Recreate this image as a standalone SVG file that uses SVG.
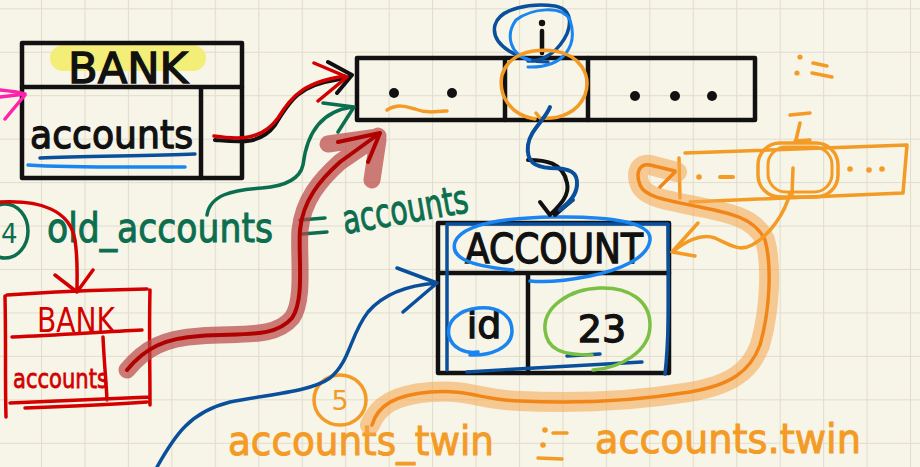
<svg xmlns="http://www.w3.org/2000/svg" width="920" height="467" viewBox="0 0 920 467">
<defs>
<pattern id="grid" x="41" y="8.3" width="43.45" height="43.45" patternUnits="userSpaceOnUse">
<path d="M0,0 V43.45 M0,0 H43.45" stroke="#e2ddcd" stroke-width="2.2" fill="none"/>
</pattern>
<style>
.k{fill:none;stroke:#111;stroke-width:4.5;stroke-linecap:round;stroke-linejoin:round}
.ln{fill:none;stroke-linecap:round;stroke-linejoin:round}
.lbl{font-family:"DejaVu Sans","Liberation Sans",sans-serif;fill:#111;stroke:#111;stroke-width:1.3}
.hand{font-family:"DejaVu Sans","Liberation Sans",sans-serif}
.dk{stroke:#0a4f9c}
.lb{stroke:#1a85f0}
.or{stroke:#f39b25}
.od{stroke:#f28518}
.gr{stroke:#0b6e4f}
.rd{stroke:#d40000}
</style>
</defs>
<rect width="920" height="467" fill="#f7f4e8"/>
<rect width="920" height="467" fill="url(#grid)"/>

<g id="bank-top">
<rect x="50" y="45" width="156" height="26" rx="13" fill="#f3ee78"/>
<rect x="22" y="43" width="220" height="135" class="k"/>
<path d="M22,87 H242 M201,87 V178" class="k"/>
<text x="128" y="83" text-anchor="middle" class="lbl" font-size="42" textLength="120" lengthAdjust="spacingAndGlyphs">BANK</text>
<text x="30" y="148" class="lbl" font-size="39" textLength="163" lengthAdjust="spacingAndGlyphs">accounts</text>
<path d="M40,158 C80,156 150,156 195,154" class="ln dk" stroke-width="3.5"/>
<path d="M28,165 C70,168 140,167 185,167" class="ln lb" stroke-width="3.5"/>
</g>

<g id="array-top">
<rect x="357" y="58" width="398" height="62" class="k"/>
<path d="M505,58 V120 M588,58 V120" class="k"/>
<g fill="#111">
<circle cx="394" cy="93" r="5"/><circle cx="452" cy="93" r="5"/>
<circle cx="635" cy="96" r="5"/><circle cx="675" cy="96" r="5"/><circle cx="712" cy="96" r="5"/>
<circle cx="542" cy="23" r="3.2"/>
</g>
<path d="M542,31 V53" class="k" stroke-width="3.5"/>
<path d="M387,110 C397,104 405,106 415,109 C425,113 435,112 447,111" class="ln or" stroke-width="3.5"/>
<path d="M548,62 C520,62 490,45 495,25 C500,8 530,3 555,6 C575,10 572,30 560,45 C552,55 540,62 528,61" class="ln dk" stroke-width="3.5"/>
<path d="M528,67 C565,68 578,45 570,20 C562,5 532,8 516,20 C505,35 510,55 530,60" class="ln lb" stroke-width="3"/>
<path d="M535,119 C510,115 498,95 502,75 C508,55 530,48 555,51 C580,55 592,75 585,95 C578,112 560,120 540,118 L536,113" class="ln or" stroke-width="3.5"/>
</g>

<g id="account">
<rect x="438" y="223" width="231" height="150" class="k"/>
<path d="M438,273 H669 M528,273 V373" class="k"/>
<text x="554" y="263" text-anchor="middle" class="lbl" font-size="40" textLength="178" lengthAdjust="spacingAndGlyphs">ACCOUNT</text>
<text x="484" y="338" text-anchor="middle" class="lbl" font-size="38">id</text>
<text x="602" y="342" text-anchor="middle" class="lbl" font-size="38">23</text>
<path d="M447,370 V224 H668 C668,280 670,330 665,374 M467,372 C530,368 600,364 642,362 M567,356 L600,354" class="ln dk" stroke-width="3.5"/>
<path d="M513,270 C470,266 450,258 455,242 C462,225 500,218 553,217 C610,216 652,222 650,240 C648,258 620,270 590,276 C560,282 540,282 530,281" class="ln lb" stroke-width="3.5"/>
<path d="M470,355 C490,356 512,348 512,331 C512,314 496,306 478,308 C458,310 446,322 449,336 C452,348 465,354 478,352" class="ln lb" stroke-width="3.5"/>
<path d="M593,370 C620,368 650,352 650,325 C650,300 628,287 600,288 C568,289 543,308 545,330 C547,350 562,355 592,355" class="ln" stroke="#79c043" stroke-width="3.5"/>
</g>

<g id="array-twin">
<path d="M685,153 L907,145 L903,193 L690,202 M679,158 L680,198" class="ln or" stroke-width="3.5"/>
<rect x="758" y="143" width="80" height="54" rx="22" class="ln or" stroke-width="3.5"/>
<rect x="768" y="147" width="64" height="45" rx="18" class="ln or" stroke-width="3"/>
<circle cx="699" cy="177" r="2.8" fill="#f39b25"/>
<path d="M720,177 L733,177" class="ln or" stroke-width="4"/>
<circle cx="850" cy="169" r="2.8" fill="#f39b25"/><circle cx="869" cy="170" r="2.8" fill="#f39b25"/><circle cx="882" cy="169" r="2.8" fill="#f39b25"/>
<path d="M790,115 L810,113 M800,123 L796,140 M795,141 L810,140 M793,168 L792,195" class="ln or" stroke-width="3.5"/>
<circle cx="800" cy="57" r="2.6" fill="#f39b25"/><circle cx="797" cy="73" r="2.6" fill="#f39b25"/>
<path d="M813,63 L827,66 M812,73 L832,77" class="ln or" stroke-width="3.5"/>
</g>

<g id="bank-red">
<path d="M7,295 C50,292 100,290 147,289 M5,296 C6,340 5,380 6,417 M150,290 C149,330 150,370 150,405 M10,403 C60,401 110,399 150,397 M25,408 C80,406 120,404 147,402 M12,337 C60,335 100,332 142,330 M103,337 C104,360 106,380 107,400" class="ln rd" stroke-width="3.5"/>
<text x="37" y="332" class="hand" font-size="34" fill="#d40000" textLength="78" lengthAdjust="spacingAndGlyphs">BANK</text>
<text x="13" y="388" class="hand" font-size="27" fill="#d40000" stroke="#d40000" stroke-width="0.8" textLength="95" lengthAdjust="spacingAndGlyphs">accounts</text>
</g>

<g id="label-old">
<ellipse cx="5" cy="231" rx="23" ry="27" class="ln gr" stroke-width="3.5"/>
<text x="1" y="243" class="hand" font-size="26" fill="#0b6e4f">4</text>
<text x="47" y="242" class="hand" font-size="40" fill="#0b6e4f" stroke="#0b6e4f" stroke-width="1" textLength="226" lengthAdjust="spacingAndGlyphs">old_accounts</text>
<path d="M300,220 L325,218 M302,234 L327,232" class="ln gr" stroke-width="3.5"/>
<text transform="translate(345,234) rotate(-10)" class="hand" font-size="40" fill="#0b6e4f" stroke="#0b6e4f" stroke-width="1" textLength="127" lengthAdjust="spacingAndGlyphs">accounts</text>
</g>

<g id="label-twin">
<ellipse cx="340" cy="400" rx="26" ry="25" class="ln or" stroke-width="3.5"/>
<text x="340" y="410" text-anchor="middle" class="hand" font-size="27" fill="#f39b25">5</text>
<text x="228" y="455" class="hand" font-size="40" fill="#f39b25" stroke="#f39b25" stroke-width="1" textLength="266" lengthAdjust="spacingAndGlyphs">accounts_twin</text>
<circle cx="545" cy="430" r="2.8" fill="#f39b25"/><circle cx="543" cy="445" r="2.8" fill="#f39b25"/>
<path d="M553,433 L567,433 M538,458 L562,459" class="ln or" stroke-width="3.5"/>
<text x="595" y="453" class="hand" font-size="40" fill="#f39b25" stroke="#f39b25" stroke-width="1" textLength="266" lengthAdjust="spacingAndGlyphs">accounts.twin</text>
</g>

<g id="connectors">
<path d="M0,90 C10,91 18,92 25,94 M25,95 L5,119 M0,97 L25,94" class="ln" stroke="#ff22aa" stroke-width="3.5"/>
<path d="M215,140 C240,142 260,145 275,125 C290,100 300,85 335,80 L350,77 M328,62 L352,75 L337,93" class="ln" stroke="#111" stroke-width="4"/>
<path d="M214,136 C240,140 262,140 278,118 C292,95 305,82 345,76 M314,63 L347,77 L318,101" class="ln rd" stroke-width="3.5"/>
<path d="M207,215 C210,195 232,190 262,188 C288,186 300,178 303,165 C306,140 316,112 352,107 M323,103 L354,107 L338,132" class="ln gr" stroke-width="3.5"/>
<path d="M528,160 C545,160 563,162 567,183 C570,195 560,205 552,213 M540,202 L550,215 M570,202 L555,215" class="ln" stroke="#111" stroke-width="4"/>
<path d="M550,107 C545,120 530,130 528,145 C526,162 535,167 550,168 C570,168 578,172 577,185 C576,198 565,205 560,210 L573,200" class="ln dk" stroke-width="4"/>
<path d="M0,202 C40,200 70,210 75,240 C78,260 77,275 77,290 M55,275 L77,292 L93,270" class="ln rd" stroke-width="3.5"/>
<path d="M127,370 C145,348 165,338 200,336 C245,333 275,338 292,318 C305,300 298,255 300,230 C303,200 320,180 340,162 L378,136 M328,144 L378,137 M372,180 L378,140" class="ln" stroke="#b84646" stroke-opacity="0.7" stroke-width="17"/>
<path d="M127,370 C145,348 165,338 200,336 C245,333 275,338 292,318 C305,300 298,255 300,230 C303,200 320,180 340,162 L380,133 M338,142 L380,133 L368,162" class="ln" stroke="#b00000" stroke-width="4"/>
<path d="M157,467 C175,435 190,412 230,402 C270,394 310,392 330,378 C350,362 350,335 368,312 C385,292 410,285 437,283 M397,268 L437,283 L403,312" class="ln dk" stroke-width="3.5"/>
<path d="M370,425 C378,405 395,395 430,392 C470,389 480,400 520,401 C580,404 640,400 690,392 C730,385 750,372 760,345 C770,310 772,265 765,240 C755,218 730,213 700,207 C665,200 645,197 640,185 C635,172 640,163 650,165 L677,172" class="ln" stroke="#f5a64c" stroke-opacity="0.55" stroke-width="20"/>
<path d="M372,425 C378,405 395,395 430,392 C470,389 480,400 520,401 C580,404 640,400 690,392 C730,385 750,372 760,345 C770,310 772,265 765,240 C755,218 730,213 700,207 C665,200 645,197 640,185 C635,172 640,163 650,165 L675,171 M660,187 L675,172" class="ln od" stroke-width="3.5"/>
<path d="M790,193 C785,213 770,235 752,245 C740,252 730,245 715,238 C700,233 685,242 672,252 M698,223 L672,252 L695,256" class="ln or" stroke-width="3.5"/>
</g>
</svg>
